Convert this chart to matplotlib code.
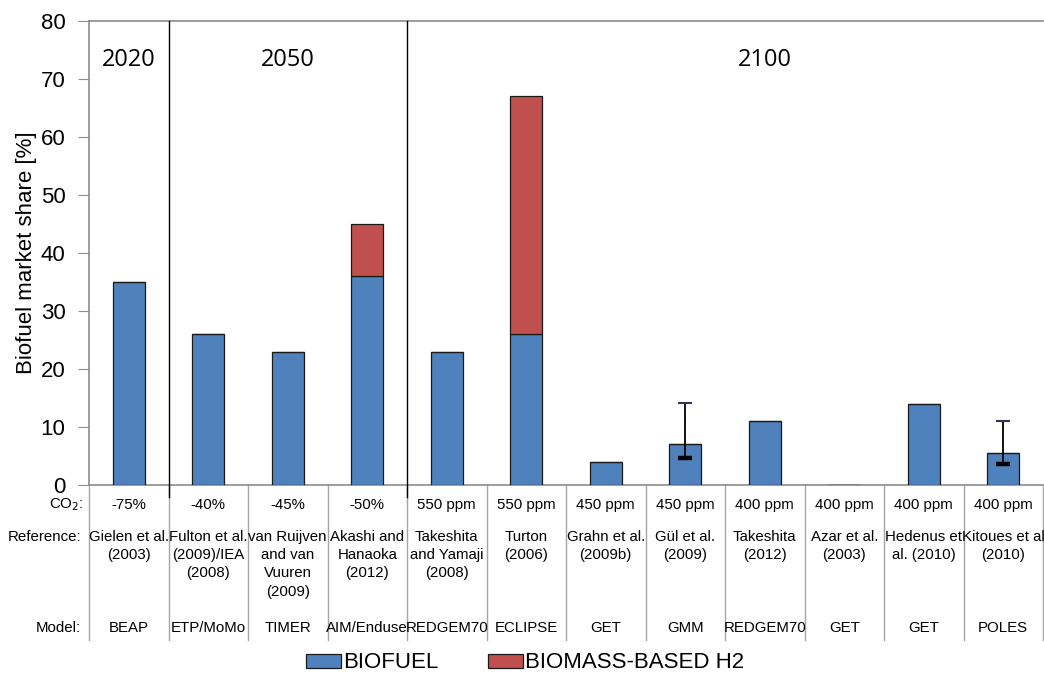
import matplotlib.pyplot as plt
from matplotlib.patches import Patch

# data
biofuel = [35, 26, 23, 36, 23, 26, 4, 7, 11, 0, 14, 5.5]
h2 = [0, 0, 0, 9, 0, 41, 0, 0, 0, 0, 0, 0]
err_idx = [7, 11]
err_low = [4.7, 3.7]
err_high = [14.1, 11.0]
co2 = ['-75%', '-40%', '-45%', '-50%', '550 ppm', '550 ppm', '450 ppm', '450 ppm',
       '400 ppm', '400 ppm', '400 ppm', '400 ppm']
refs = ['Gielen et al.\n(2003)', 'Fulton et al.\n(2009)/IEA\n(2008)',
        'van Ruijven\nand van\nVuuren\n(2009)', 'Akashi and\nHanaoka\n(2012)',
        'Takeshita\nand Yamaji\n(2008)', 'Turton\n(2006)', 'Grahn et al.\n(2009b)',
        'Gül et al.\n(2009)', 'Takeshita\n(2012)', 'Azar et al.\n(2003)',
        'Hedenus et\nal. (2010)', 'Kitoues et al\n(2010)']
models = ['BEAP', 'ETP/MoMo', 'TIMER', 'AIM/Enduse', 'REDGEM70', 'ECLIPSE', 'GET',
          'GMM', 'REDGEM70', 'GET', 'GET', 'POLES']
periods = ['2020', '2050', '2100']
period_x = [0, 2, 8]
period_breaks = [0.5, 3.5]

blue = '#4F81BD'
red = '#C0504D'
grey = '#8C8C8C'
plt.rcParams['font.family'] = ['Liberation Sans', 'DejaVu Sans']

fig = plt.figure(figsize=(10.44, 6.8), dpi=100)
ax = fig.add_axes([89 / 1044, 195 / 680, 954 / 1044, 464 / 680])

x = list(range(len(biofuel)))
ax.bar(x, biofuel, width=0.4, color=blue, edgecolor='#1a1a1a', linewidth=0.9, zorder=3)
ax.bar(x, h2, bottom=biofuel, width=0.4, color=red, edgecolor='#1a1a1a', linewidth=0.9, zorder=3)

# error bars: thin cap on top, heavy cap at the bottom
ax.vlines(err_idx, err_low, err_high, color='black', linewidth=1.3, zorder=4)
ax.plot(err_idx, err_high, linestyle='none', marker='_', markersize=10,
        markeredgewidth=1.5, color='#3a3050', zorder=4)
ax.plot(err_idx, err_low, linestyle='none', marker='_', markersize=10,
        markeredgewidth=3.2, color='black', zorder=4)

ax.set_xlim(-0.5, len(biofuel) - 0.5)
ax.set_ylim(0, 80)
ax.set_yticks(range(0, 81, 10))
ax.set_xticks([])
ax.tick_params(axis='y', labelsize=16, length=8, color=grey, direction='out', pad=9)
for side in ['left', 'bottom', 'top']:
    ax.spines[side].set_color(grey)
    ax.spines[side].set_linewidth(1.2)
ax.spines['right'].set_visible(False)
ax.set_ylabel('Biofuel market share [%]', fontsize=16)
ax.yaxis.set_label_coords(-0.055, 0.5)

# period separators and labels
for b in period_breaks:
    ax.plot([b, b], [1.0, -0.025], color='black', linewidth=1,
            transform=ax.get_xaxis_transform(), clip_on=False, zorder=5)
for p, px in zip(periods, period_x):
    ax.text(px, 0.915, p, fontsize=17, ha='center', va='center',
            transform=ax.get_xaxis_transform(), family=['Open Sans', 'DejaVu Sans'])

# table below the plot
tr = ax.get_xaxis_transform()
for b in [i - 0.5 for i in range(len(biofuel) + 1)]:
    ax.plot([b, b], [0, -0.334], color='#A6A6A6', linewidth=1, transform=tr,
            clip_on=False, zorder=1)
for i in x:
    ax.text(i, -0.043, co2[i], fontsize=10.8, ha='center', va='center', transform=tr)
    ax.text(i, -0.097, refs[i], fontsize=10.8, ha='center', va='top', transform=tr,
            linespacing=1.38)
    ax.text(i, -0.308, models[i], fontsize=10.8, ha='center', va='center', transform=tr)
ax.text(-0.57, -0.043, 'CO$_2$:', fontsize=10.8, ha='right', va='center', transform=tr)
ax.text(-0.6, -0.113, 'Reference:', fontsize=10.8, ha='right', va='center', transform=tr)
ax.text(-0.6, -0.308, 'Model:', fontsize=10.8, ha='right', va='center', transform=tr)

handles = [Patch(facecolor=blue, edgecolor='#1a1a1a', linewidth=0.9, label='BIOFUEL'),
           Patch(facecolor=red, edgecolor='#1a1a1a', linewidth=0.9, label='BIOMASS-BASED H2')]
fig.legend(handles=handles, loc='center', bbox_to_anchor=(525 / 1044, 1 - 663 / 680),
           ncol=2, frameon=False, fontsize=16, handlelength=1.6, handleheight=0.6,
           handletextpad=0.1, columnspacing=2.2)

fig.savefig('out.png', dpi=100)
